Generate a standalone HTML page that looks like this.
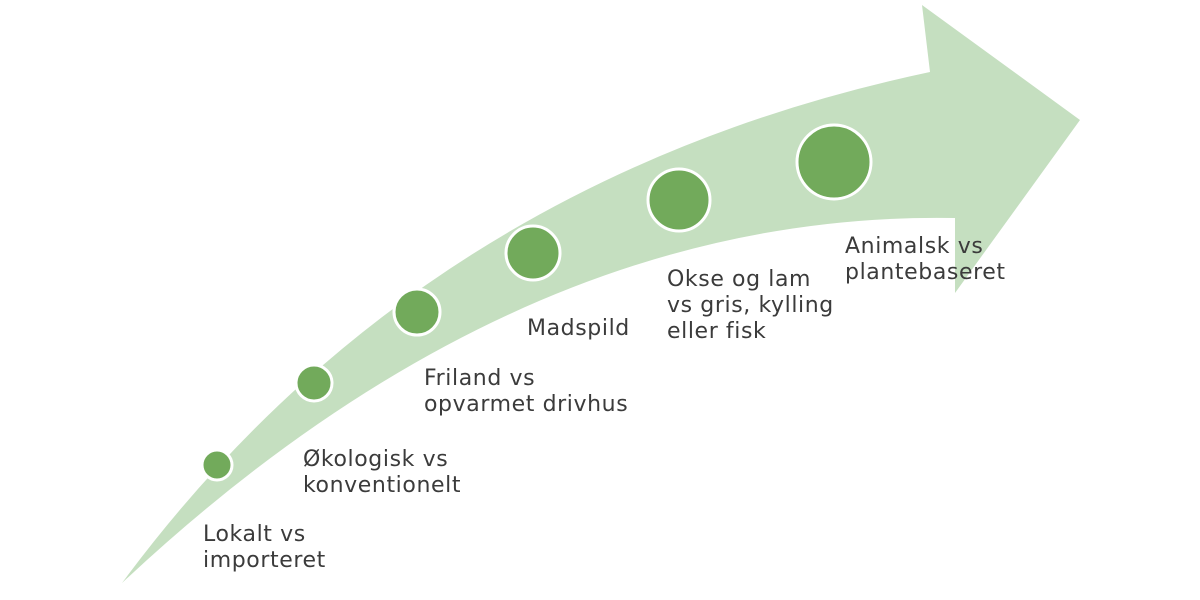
<!DOCTYPE html>
<html><head><meta charset="utf-8"><style>
html,body{margin:0;padding:0;background:#fff;}
.c{position:relative;width:1200px;height:600px;overflow:hidden;}
.t{position:absolute;font-family:"DejaVu Sans",sans-serif;font-size:22px;line-height:26px;color:#3b3b3b;white-space:nowrap;letter-spacing:0.6px;}
</style></head><body><div class="c">
<svg width="1200" height="600" style="position:absolute;left:0;top:0">
<path d="M122,583 Q420,180 930,72 L922,5 L1080,120 L955,293 L955,218 Q520,210 122,583 Z" fill="#c5dfc0"/>
<g fill="#72aa5b" stroke="#fff" stroke-width="3">
<circle cx="217" cy="465" r="15"/>
<circle cx="314" cy="383" r="18"/>
<circle cx="417" cy="312" r="23"/>
<circle cx="533" cy="253" r="27"/>
<circle cx="679" cy="200" r="31"/>
<circle cx="834" cy="162" r="37"/>
</g>
</svg>
<div class="t" style="left:203px;top:522px">Lokalt vs<br>importeret</div>
<div class="t" style="left:303px;top:447px">Økologisk vs<br>konventionelt</div>
<div class="t" style="left:424px;top:366px">Friland vs<br>opvarmet drivhus</div>
<div class="t" style="left:527px;top:316px">Madspild</div>
<div class="t" style="left:667px;top:267px">Okse og lam<br>vs gris, kylling<br>eller fisk</div>
<div class="t" style="left:845px;top:234px">Animalsk vs<br>plantebaseret</div>
</div></body></html>
